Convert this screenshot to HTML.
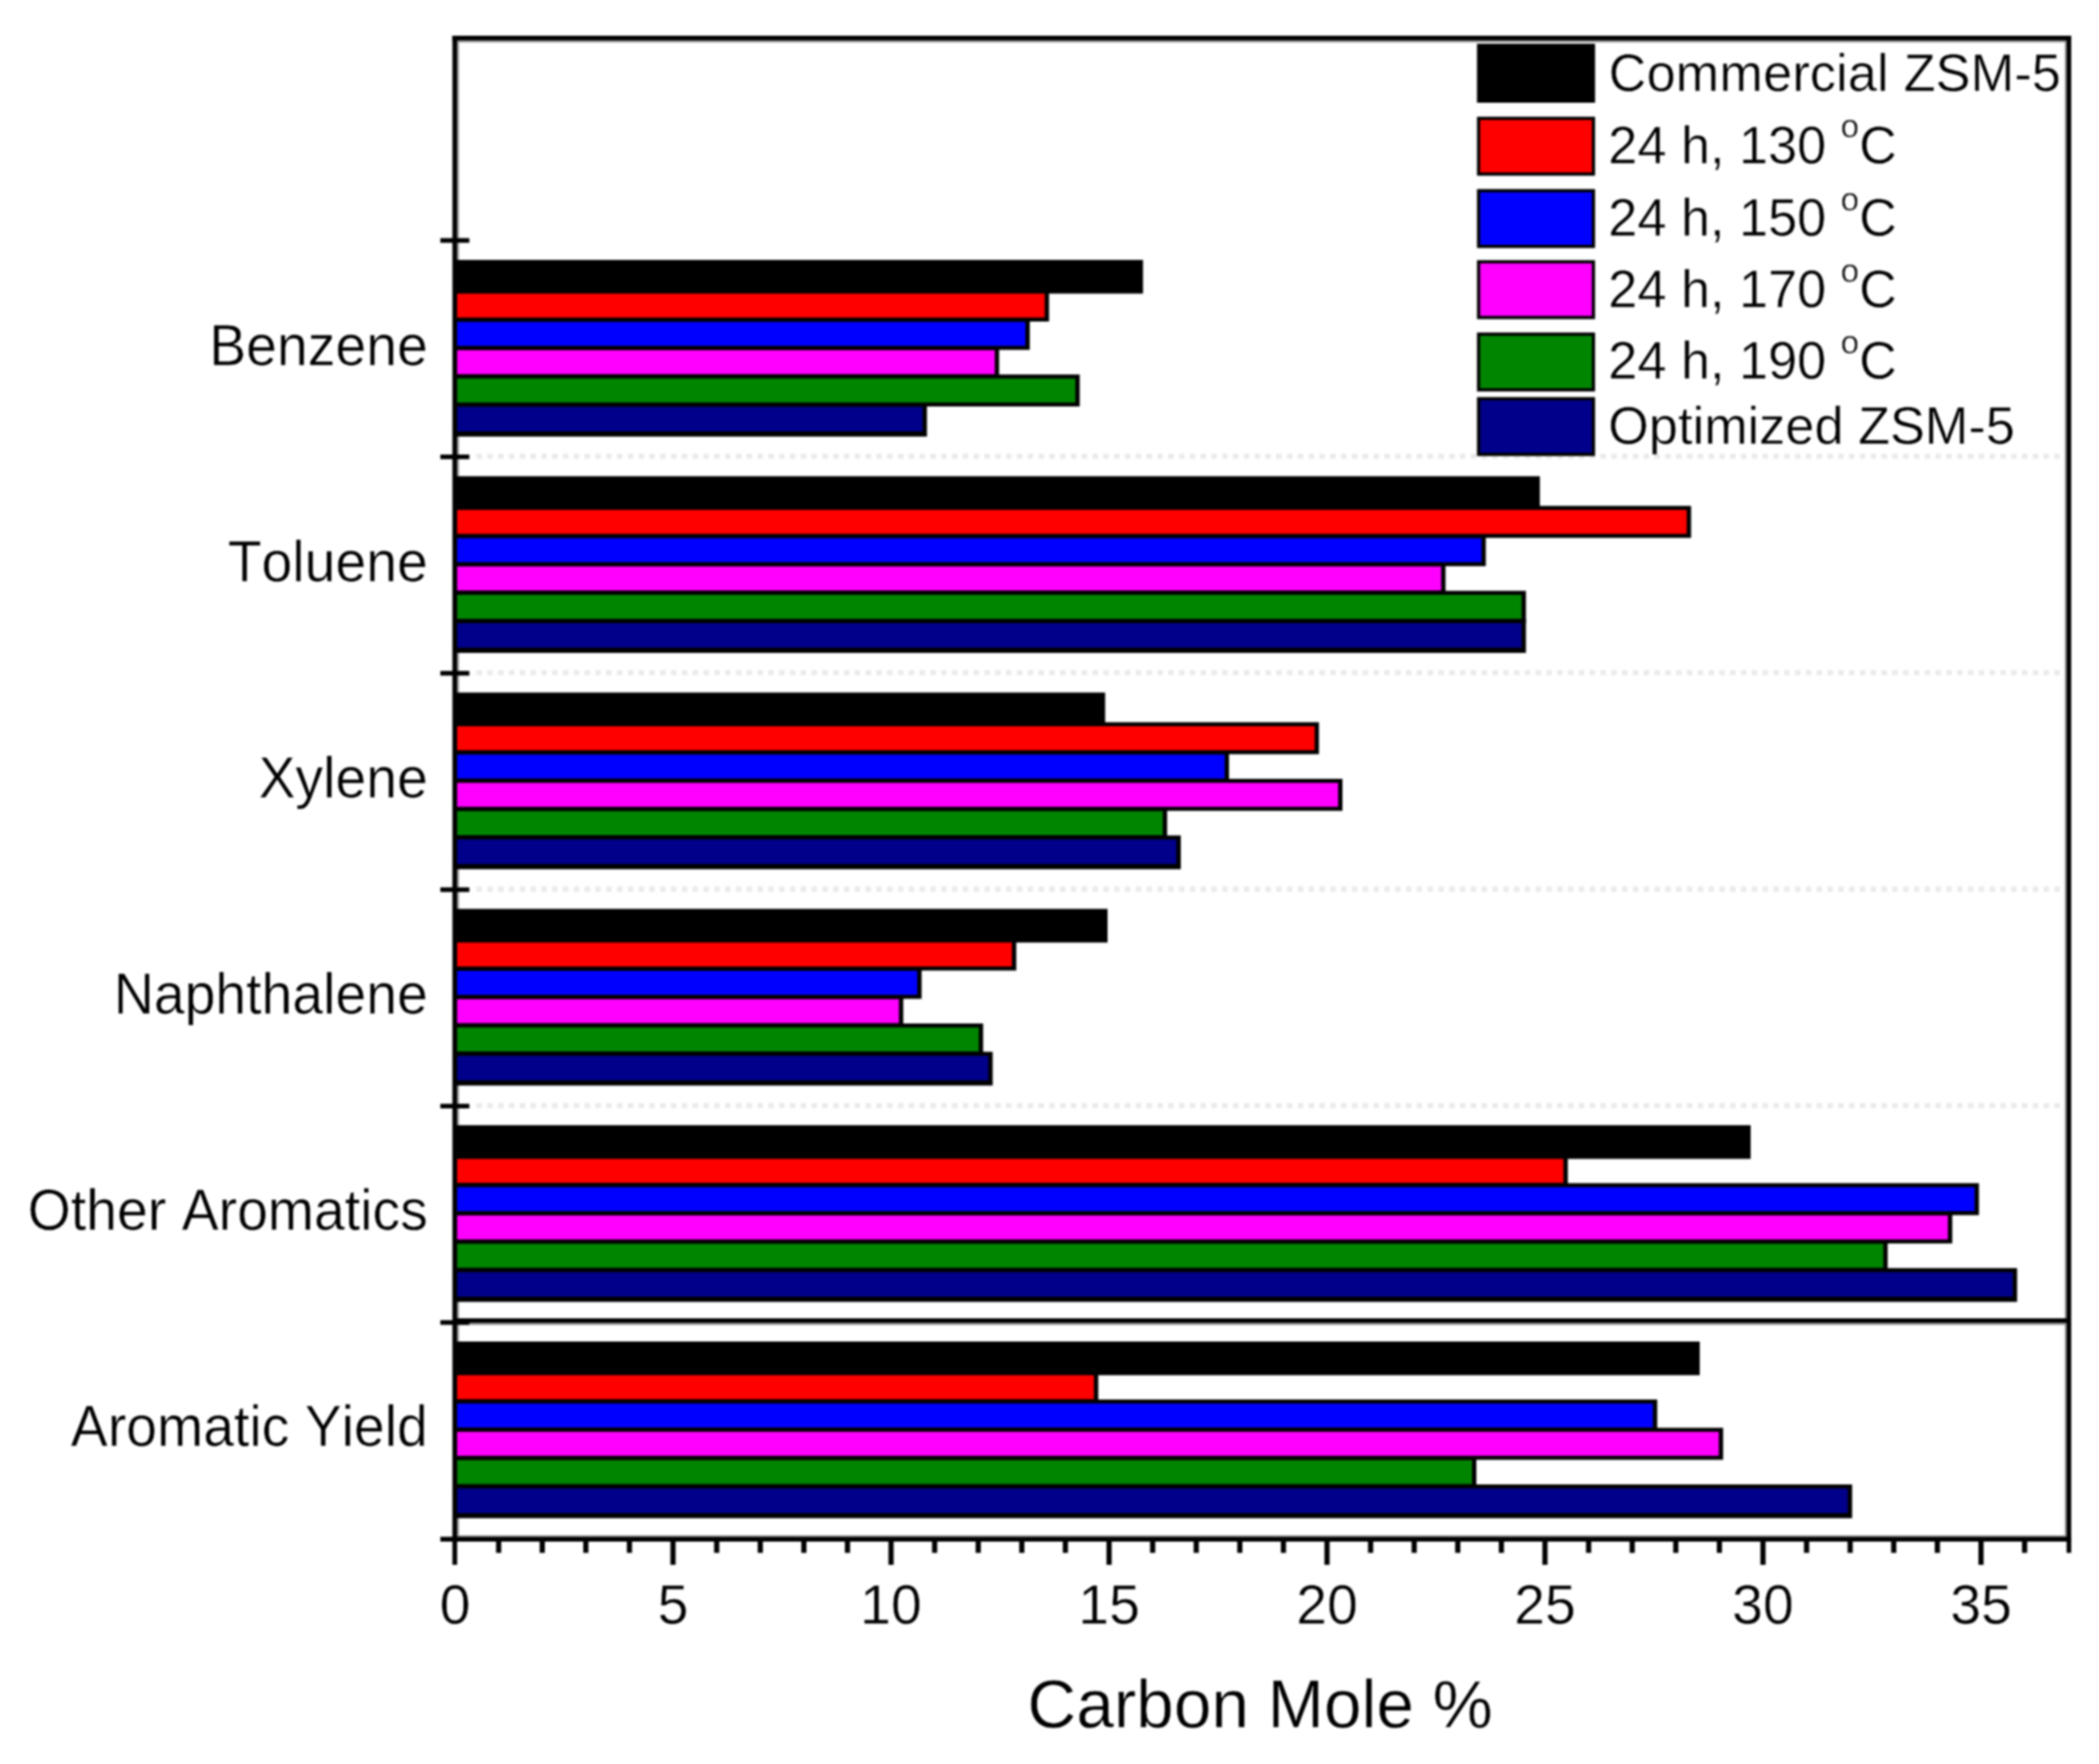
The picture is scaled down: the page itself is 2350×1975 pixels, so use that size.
<!DOCTYPE html>
<html lang="en"><head><meta charset="utf-8"><title>Carbon Mole % of aromatics</title>
<style>html,body{margin:0;padding:0;background:#fff}svg{display:block;filter:blur(0.8px)}text{font-family:"Liberation Sans",sans-serif;fill:#000;stroke:#fff;stroke-width:0.5px;paint-order:fill stroke;font-kerning:none;font-variant-ligatures:none}</style>
</head><body>
<svg width="2350" height="1975" viewBox="0 0 2350 1975">
<rect x="0" y="0" width="2350" height="1975" fill="#fff"/>
<g stroke="#eaeaea" stroke-width="5.8" stroke-dasharray="6 6.1">
<line x1="533.5" y1="510.9" x2="2312" y2="510.9"/>
<line x1="533.5" y1="753.2" x2="2312" y2="753.2"/>
<line x1="533.5" y1="995.5" x2="2312" y2="995.5"/>
<line x1="533.5" y1="1237.8" x2="2312" y2="1237.8"/>
</g>
<g fill="#9a9a9a">
<rect x="511.8" y="45" width="2.1" height="1676"/>
<rect x="511" y="45.4" width="1803" height="2.1"/>
<rect x="2311.7" y="45" width="2.2" height="1676"/>
<rect x="511" y="1718.9" width="1803" height="1.8"/>
</g>
<g>
<rect x="510" y="291.00" width="769.7" height="37.70" fill="#000"/>
<rect x="510" y="324.20" width="664.5" height="35.80" fill="#000"/>
<rect x="510" y="355.90" width="642.9" height="35.80" fill="#000"/>
<rect x="510" y="387.60" width="608.6" height="35.80" fill="#000"/>
<rect x="510" y="419.30" width="698.8" height="35.80" fill="#000"/>
<rect x="510" y="451.00" width="527.8" height="37.80" fill="#000"/>
<rect x="510" y="328.70" width="659.6" height="26.80" fill="#ff0000"/>
<rect x="510" y="360.40" width="638.0" height="26.80" fill="#0000ff"/>
<rect x="510" y="392.10" width="603.7" height="26.80" fill="#ff00ff"/>
<rect x="510" y="423.80" width="693.9" height="26.80" fill="#008500"/>
<rect x="510" y="455.50" width="522.9" height="27.50" fill="#00008b"/>
<rect x="510" y="533.20" width="1214.0" height="37.70" fill="#000"/>
<rect x="510" y="566.40" width="1383.3" height="35.80" fill="#000"/>
<rect x="510" y="598.10" width="1153.5" height="35.80" fill="#000"/>
<rect x="510" y="629.80" width="1108.4" height="35.80" fill="#000"/>
<rect x="510" y="661.50" width="1198.4" height="35.80" fill="#000"/>
<rect x="510" y="693.20" width="1198.4" height="37.80" fill="#000"/>
<rect x="510" y="570.90" width="1378.4" height="26.80" fill="#ff0000"/>
<rect x="510" y="602.60" width="1148.6" height="26.80" fill="#0000ff"/>
<rect x="510" y="634.30" width="1103.5" height="26.80" fill="#ff00ff"/>
<rect x="510" y="666.00" width="1193.5" height="26.80" fill="#008500"/>
<rect x="510" y="697.70" width="1193.5" height="27.50" fill="#00008b"/>
<rect x="510" y="775.40" width="727.3" height="37.70" fill="#000"/>
<rect x="510" y="808.60" width="966.7" height="35.80" fill="#000"/>
<rect x="510" y="840.30" width="866.0" height="35.80" fill="#000"/>
<rect x="510" y="872.00" width="993.0" height="35.80" fill="#000"/>
<rect x="510" y="903.70" width="796.7" height="35.80" fill="#000"/>
<rect x="510" y="935.40" width="812.0" height="37.80" fill="#000"/>
<rect x="510" y="813.10" width="961.8" height="26.80" fill="#ff0000"/>
<rect x="510" y="844.80" width="861.1" height="26.80" fill="#0000ff"/>
<rect x="510" y="876.50" width="988.1" height="26.80" fill="#ff00ff"/>
<rect x="510" y="908.20" width="791.8" height="26.80" fill="#008500"/>
<rect x="510" y="939.90" width="807.1" height="27.50" fill="#00008b"/>
<rect x="510" y="1017.60" width="730.0" height="37.70" fill="#000"/>
<rect x="510" y="1050.80" width="627.8" height="35.80" fill="#000"/>
<rect x="510" y="1082.50" width="521.8" height="35.80" fill="#000"/>
<rect x="510" y="1114.20" width="501.3" height="35.80" fill="#000"/>
<rect x="510" y="1145.90" width="590.7" height="35.80" fill="#000"/>
<rect x="510" y="1177.60" width="601.4" height="37.80" fill="#000"/>
<rect x="510" y="1055.30" width="622.9" height="26.80" fill="#ff0000"/>
<rect x="510" y="1087.00" width="516.9" height="26.80" fill="#0000ff"/>
<rect x="510" y="1118.70" width="496.4" height="26.80" fill="#ff00ff"/>
<rect x="510" y="1150.40" width="585.8" height="26.80" fill="#008500"/>
<rect x="510" y="1182.10" width="596.5" height="27.50" fill="#00008b"/>
<rect x="510" y="1259.80" width="1450.0" height="37.70" fill="#000"/>
<rect x="510" y="1293.00" width="1245.3" height="35.80" fill="#000"/>
<rect x="510" y="1324.70" width="1705.6" height="35.80" fill="#000"/>
<rect x="510" y="1356.40" width="1675.7" height="35.80" fill="#000"/>
<rect x="510" y="1388.10" width="1603.4" height="35.80" fill="#000"/>
<rect x="510" y="1419.80" width="1748.3" height="37.80" fill="#000"/>
<rect x="510" y="1297.50" width="1240.4" height="26.80" fill="#ff0000"/>
<rect x="510" y="1329.20" width="1700.7" height="26.80" fill="#0000ff"/>
<rect x="510" y="1360.90" width="1670.8" height="26.80" fill="#ff00ff"/>
<rect x="510" y="1392.60" width="1598.5" height="26.80" fill="#008500"/>
<rect x="510" y="1424.30" width="1743.4" height="27.50" fill="#00008b"/>
<rect x="510" y="1502.00" width="1393.0" height="37.70" fill="#000"/>
<rect x="510" y="1535.20" width="719.6" height="35.80" fill="#000"/>
<rect x="510" y="1566.90" width="1345.4" height="35.80" fill="#000"/>
<rect x="510" y="1598.60" width="1419.2" height="35.80" fill="#000"/>
<rect x="510" y="1630.30" width="1142.9" height="35.80" fill="#000"/>
<rect x="510" y="1662.00" width="1563.6" height="37.80" fill="#000"/>
<rect x="510" y="1539.70" width="714.7" height="26.80" fill="#ff0000"/>
<rect x="510" y="1571.40" width="1340.5" height="26.80" fill="#0000ff"/>
<rect x="510" y="1603.10" width="1414.3" height="26.80" fill="#ff00ff"/>
<rect x="510" y="1634.80" width="1138.0" height="26.80" fill="#008500"/>
<rect x="510" y="1666.50" width="1558.7" height="27.50" fill="#00008b"/>
</g>
<rect x="510" y="1476" width="1806" height="5.2" fill="#000"/><rect x="513" y="1481.2" width="1800" height="2.2" fill="#8c8c8c"/>
<g fill="#000">
<rect x="506.5" y="40" width="5.3" height="1712"/>
<rect x="506.5" y="40" width="1812.3" height="5.4"/>
<rect x="2313.7" y="40" width="5.2" height="1698.6"/>
<rect x="493" y="1720.6" width="1825.8" height="5.4"/>
<rect x="493" y="266.6" width="32.5" height="5.2"/>
<rect x="493" y="508.9" width="32.5" height="5.2"/>
<rect x="493" y="751.2" width="32.5" height="5.2"/>
<rect x="493" y="993.5" width="32.5" height="5.2"/>
<rect x="493" y="1235.8" width="32.5" height="5.2"/>
<rect x="493" y="1478.1" width="32.5" height="5.2"/>
<rect x="555.4" y="1724" width="5.8" height="14.6"/>
<rect x="604.2" y="1724" width="5.8" height="14.6"/>
<rect x="653.0" y="1724" width="5.8" height="14.6"/>
<rect x="701.8" y="1724" width="5.8" height="14.6"/>
<rect x="750.6" y="1724" width="5.8" height="28"/>
<rect x="799.5" y="1724" width="5.8" height="14.6"/>
<rect x="848.3" y="1724" width="5.8" height="14.6"/>
<rect x="897.1" y="1724" width="5.8" height="14.6"/>
<rect x="945.9" y="1724" width="5.8" height="14.6"/>
<rect x="994.7" y="1724" width="5.8" height="28"/>
<rect x="1043.5" y="1724" width="5.8" height="14.6"/>
<rect x="1092.3" y="1724" width="5.8" height="14.6"/>
<rect x="1141.1" y="1724" width="5.8" height="14.6"/>
<rect x="1189.9" y="1724" width="5.8" height="14.6"/>
<rect x="1238.8" y="1724" width="5.8" height="28"/>
<rect x="1287.6" y="1724" width="5.8" height="14.6"/>
<rect x="1336.4" y="1724" width="5.8" height="14.6"/>
<rect x="1385.2" y="1724" width="5.8" height="14.6"/>
<rect x="1434.0" y="1724" width="5.8" height="14.6"/>
<rect x="1482.8" y="1724" width="5.8" height="28"/>
<rect x="1531.6" y="1724" width="5.8" height="14.6"/>
<rect x="1580.4" y="1724" width="5.8" height="14.6"/>
<rect x="1629.2" y="1724" width="5.8" height="14.6"/>
<rect x="1678.0" y="1724" width="5.8" height="14.6"/>
<rect x="1726.8" y="1724" width="5.8" height="28"/>
<rect x="1775.7" y="1724" width="5.8" height="14.6"/>
<rect x="1824.5" y="1724" width="5.8" height="14.6"/>
<rect x="1873.3" y="1724" width="5.8" height="14.6"/>
<rect x="1922.1" y="1724" width="5.8" height="14.6"/>
<rect x="1970.9" y="1724" width="5.8" height="28"/>
<rect x="2019.7" y="1724" width="5.8" height="14.6"/>
<rect x="2068.5" y="1724" width="5.8" height="14.6"/>
<rect x="2117.3" y="1724" width="5.8" height="14.6"/>
<rect x="2166.1" y="1724" width="5.8" height="14.6"/>
<rect x="2215.0" y="1724" width="5.8" height="28"/>
<rect x="2263.8" y="1724" width="5.8" height="14.6"/>
</g>
<g font-size="62" text-anchor="middle">
<text transform="translate(509.5,1818.3) scale(1,1.03)">0</text>
<text transform="translate(753.5,1818.3) scale(1,1.03)">5</text>
<text transform="translate(997.6,1818.3) scale(1,1.03)">10</text>
<text transform="translate(1241.7,1818.3) scale(1,1.03)">15</text>
<text transform="translate(1485.7,1818.3) scale(1,1.03)">20</text>
<text transform="translate(1729.8,1818.3) scale(1,1.03)">25</text>
<text transform="translate(1973.8,1818.3) scale(1,1.03)">30</text>
<text transform="translate(2217.9,1818.3) scale(1,1.03)">35</text>
</g>
<g font-size="62" text-anchor="end">
<text transform="translate(479,408.8) scale(1,1.04)">Benzene</text>
<text transform="translate(479,650.8) scale(1,1.04)">Toluene</text>
<text transform="translate(479,892.7) scale(1,1.04)">Xylene</text>
<text transform="translate(479,1134.6) scale(1,1.04)">Naphthalene</text>
<text transform="translate(479,1376.6) scale(1,1.04)">Other Aromatics</text>
<text transform="translate(479,1618.5) scale(1,1.04)">Aromatic Yield</text>
</g>
<text x="1410.8" y="1934.4" font-size="75.6" text-anchor="middle">Carbon Mole %</text>
<g>
<rect x="1653.6" y="49" width="132.2" height="66" fill="#000"/>
<text x="1801" y="102.3" font-size="58.5" letter-spacing="0.17">Commercial ZSM-5</text>
<rect x="1653.6" y="130.7" width="132.2" height="66" fill="#000"/>
<rect x="1657.2" y="134.3" width="125" height="58.8" fill="#ff0000"/>
<text x="1800.6" y="182.5" font-size="58.5">24 h, 130 <tspan font-size="37" dy="-28.5">o</tspan><tspan dy="28.5">C</tspan></text>
<rect x="1653.6" y="211.7" width="132.2" height="66" fill="#000"/>
<rect x="1657.2" y="215.3" width="125" height="58.8" fill="#0000ff"/>
<text x="1800.6" y="264.0" font-size="58.5">24 h, 150 <tspan font-size="37" dy="-28.5">o</tspan><tspan dy="28.5">C</tspan></text>
<rect x="1653.6" y="291.3" width="132.2" height="66" fill="#000"/>
<rect x="1657.2" y="294.9" width="125" height="58.8" fill="#ff00ff"/>
<text x="1800.6" y="344.0" font-size="58.5">24 h, 170 <tspan font-size="37" dy="-28.5">o</tspan><tspan dy="28.5">C</tspan></text>
<rect x="1653.6" y="372.3" width="132.2" height="66" fill="#000"/>
<rect x="1657.2" y="375.9" width="125" height="58.8" fill="#008500"/>
<text x="1800.6" y="424.3" font-size="58.5">24 h, 190 <tspan font-size="37" dy="-28.5">o</tspan><tspan dy="28.5">C</tspan></text>
<rect x="1653.6" y="444.6" width="132.2" height="66" fill="#000"/>
<rect x="1657.2" y="448.2" width="125" height="58.8" fill="#00008b"/>
<text x="1800.6" y="497.2" font-size="58.5">Optimized ZSM-5</text>
</g>
</svg>
</body></html>
